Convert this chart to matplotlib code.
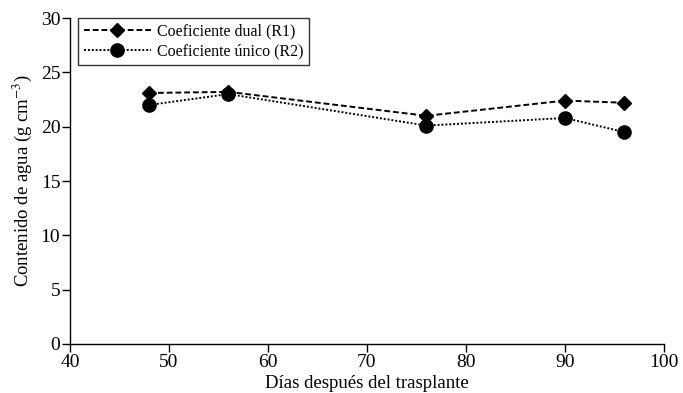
import numpy as np
import matplotlib.pyplot as plt

# ----- data
dias = [48, 56, 76, 90, 96]
dual_r1 = [23.1, 23.2, 21.0, 22.4, 22.2]
unico_r2 = [22.0, 23.0, 20.1, 20.8, 19.5]

xticks = [40, 50, 60, 70, 80, 90, 100]
yticks = [0, 5, 10, 15, 20, 25, 30]

plt.rcParams['font.family'] = ['Liberation Serif', 'DejaVu Serif']
plt.rcParams['mathtext.fontset'] = 'stix'

fig = plt.figure(figsize=(6.83, 3.93), dpi=100)
ax = fig.add_axes([70/683, 1-344/393, (664-70)/683, (344-18)/393])

ax.plot(dias, dual_r1, color='black', linestyle=(0, (3, 1.5)), linewidth=1.4,
        marker='D', markersize=7.5, label='Coeficiente dual (R1)')
ax.plot(dias, unico_r2, color='black', linestyle=(0, (1, 1)), linewidth=1.4,
        marker='o', markersize=9.5, label='Coeficiente único (R2)')

ax.set_xlim(40, 100)
ax.set_ylim(0, 30)
ax.set_xticks(xticks)
ax.set_yticks(yticks)
ax.tick_params(direction='out', length=6, width=1, labelsize=14, pad=1)
for s in ['top', 'right']:
    ax.spines[s].set_visible(False)
for s in ['left', 'bottom']:
    ax.spines[s].set_linewidth(1)

ax.set_xlabel('Días después del trasplante', fontsize=13.5, labelpad=3)
ax.set_ylabel('Contenido de agua (g cm$^{-3}$)', fontsize=13.5, labelpad=5)

leg = ax.legend(loc='upper left', bbox_to_anchor=(0.014, 1.0), fontsize=11.5,
                frameon=True, fancybox=False, edgecolor='black',
                handlelength=4.2, handletextpad=0.4, borderpad=0.35,
                labelspacing=0.25, borderaxespad=0.0)
leg.get_frame().set_linewidth(1)

fig.savefig('out.png', dpi=100)
